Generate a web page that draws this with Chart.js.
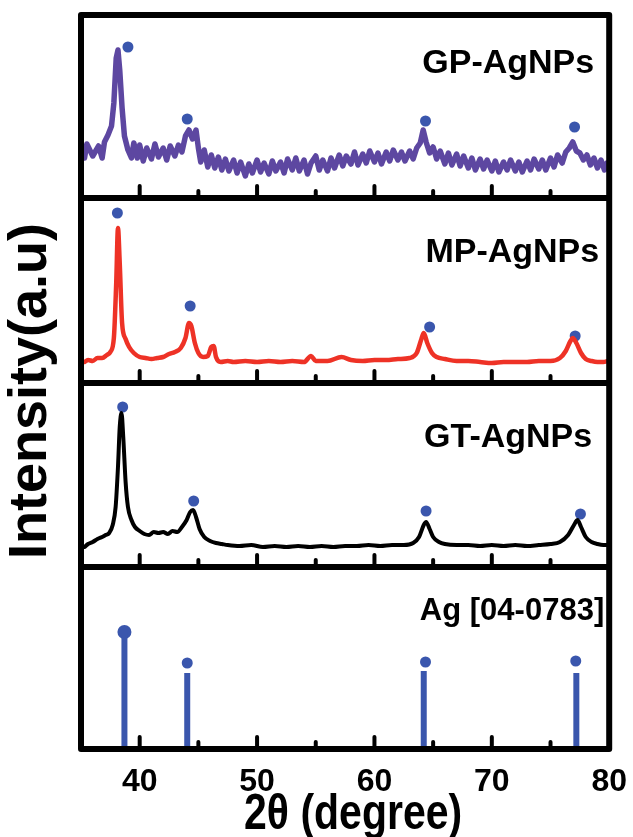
<!DOCTYPE html>
<html>
<head>
<meta charset="utf-8">
<script src="https://cdn.jsdelivr.net/npm/chart.js@4.4.0/dist/chart.umd.min.js"></script>
<style>
  html, body { margin: 0; padding: 0; background: #fff; }
  #grafico { display: block; }
</style>
</head>
<body>
<canvas id="grafico" width="633" height="837"></canvas>
<script>
// Difractogramas XRD leidos a ojo de la figura (altura sobre el borde inferior de cada panel)
const gpTheta = [35.3, 35.5, 36.0, 36.5, 36.8, 37.0, 37.3, 37.6, 37.8, 38.0, 38.15, 38.3, 38.5, 38.7, 39.0, 39.3, 39.5, 39.8,
  40.0, 40.3, 40.6, 41.0, 41.3, 41.6, 42.0, 42.3, 42.6, 43.0, 43.3, 43.6, 43.9, 44.2, 44.5, 44.8, 45.0, 45.2, 45.5, 45.8,
  46.1, 46.4, 46.7, 47.0, 47.3, 47.6, 48.0, 48.3, 48.6, 49.0, 49.3, 49.6, 50.0, 50.3, 50.6, 51.0, 51.3, 51.6, 52.0, 52.3,
  52.6, 53.0, 53.3, 53.6, 54.0, 54.3, 54.6, 55.0, 55.3, 55.6, 56.0, 56.3, 56.6, 57.0, 57.3, 57.6, 58.0, 58.3, 58.6, 59.0,
  59.3, 59.6, 60.0, 60.3, 60.6, 61.0, 61.3, 61.6, 62.0, 62.3, 62.6, 63.0, 63.3, 63.6, 63.9, 64.15, 64.4, 64.7, 65.0, 65.3,
  65.6, 66.0, 66.3, 66.6, 67.0, 67.3, 67.6, 68.0, 68.3, 68.6, 69.0, 69.3, 69.6, 70.0, 70.3, 70.6, 71.0, 71.3, 71.6, 72.0,
  72.3, 72.6, 73.0, 73.3, 73.6, 74.0, 74.3, 74.6, 75.0, 75.3, 75.6, 76.0, 76.3, 76.6, 76.9, 77.2, 77.5, 77.8, 78.1, 78.4,
  78.7, 79.0, 79.3, 79.6, 79.8];
const gpIntensity = [40, 54, 42, 52, 40, 56, 63, 72, 95, 140, 148, 128, 90, 62, 48, 40, 55, 40,
  53, 37, 50, 39, 54, 41, 50, 38, 52, 42, 53, 46, 62, 68, 59, 68, 50, 36, 48, 31,
  43, 30, 41, 28, 39, 27, 38, 25, 36, 22, 34, 25, 38, 26, 35, 24, 37, 27, 36, 25,
  39, 28, 40, 27, 38, 24, 35, 42, 28, 38, 27, 40, 30, 43, 32, 42, 34, 46, 33, 44,
  35, 47, 36, 45, 34, 46, 37, 48, 38, 46, 37, 47, 39, 50, 55, 68, 56, 45, 51, 39,
  47, 34, 45, 33, 44, 32, 42, 30, 40, 28, 39, 29, 38, 27, 37, 26, 36, 28, 38, 27,
  36, 26, 37, 28, 39, 29, 38, 28, 40, 31, 43, 35, 46, 50, 56, 47, 45, 38, 43, 33,
  40, 30, 38, 28, 35];

const mpTheta = [35.3, 35.6, 36.0, 36.4, 36.8, 37.2, 37.5, 37.8, 38.0, 38.15, 38.3, 38.5, 38.8, 39.1, 39.5, 40.0, 40.5,
  41.0, 41.5, 42.0, 42.5, 43.0, 43.5, 43.9, 44.2, 44.4, 44.7, 45.0, 45.4, 45.8, 46.1, 46.3, 46.5, 46.9, 47.5, 48.0,
  49.0, 50.0, 51.0, 52.0, 53.0, 54.0, 54.6, 55.0, 56.0, 57.2, 58.0, 59.0, 60.0, 61.0, 62.0, 63.0, 63.6, 64.0, 64.2,
  64.5, 64.9, 65.3, 66.0, 67.0, 68.0, 69.0, 70.0, 71.0, 72.0, 73.0, 74.0, 75.0, 75.8, 76.3, 76.7, 76.9, 77.2, 77.6,
  78.0, 78.5, 79.0, 79.5, 79.9];
const mpIntensity = [21, 23, 22, 25, 25, 28, 31, 45, 100, 155, 120, 60, 44, 36, 30, 26, 25,
  24, 25, 26, 29, 31, 35, 45, 60, 57, 40, 30, 26, 27, 36, 37, 26, 21, 22, 21,
  22, 21, 22, 21, 22, 21, 27, 22, 22, 26, 23, 22, 23, 23, 24, 25, 30, 44, 50,
  40, 30, 26, 24, 22, 22, 21, 20, 21, 21, 21, 22, 22, 25, 32, 42, 45, 40, 30,
  24, 22, 21, 21, 22];

const gtTheta = [35.3, 35.6, 36.0, 36.4, 36.8, 37.1, 37.4, 37.7, 37.95, 38.15, 38.3, 38.45, 38.6, 38.8, 39.0, 39.3, 39.6,
  40.0, 40.4, 40.8, 41.2, 41.6, 42.0, 42.4, 42.8, 43.2, 43.6, 44.0, 44.3, 44.55, 44.8, 45.1, 45.5, 46.0, 46.5, 47.0,
  47.5, 48.5, 49.5, 50.5, 51.5, 52.5, 53.5, 54.5, 55.5, 56.5, 57.5, 58.5, 59.5, 60.5, 61.5, 62.5, 63.3, 63.8, 64.2,
  64.4, 64.7, 65.0, 65.5, 66.0, 67.0, 68.0, 69.0, 70.0, 71.0, 72.0, 73.0, 74.0, 75.0, 75.8, 76.5, 77.0, 77.3, 77.6,
  78.0, 78.5, 79.0, 79.5, 79.9];
const gtIntensity = [20, 23, 25, 28, 30, 32, 34, 42, 60, 100, 140, 154, 130, 85, 60, 47, 40,
  36, 33, 32, 35, 34, 35, 33, 36, 35, 40, 47, 55, 57, 50, 38, 30, 26, 24, 23,
  22, 21, 22, 20, 21, 20, 21, 20, 21, 20, 21, 21, 22, 21, 22, 22, 24, 30, 42,
  45, 38, 30, 25, 23, 22, 22, 21, 22, 21, 22, 21, 22, 23, 25, 32, 42, 47, 40,
  30, 25, 23, 22, 22];

// Patron de referencia Ag (barras) y marcadores de pico
const refTheta = [38.7, 44.05, 64.2, 77.2];
const refIntensity = [117, 76, 78, 76];

const gpPeakTheta = [39.0, 44.05, 64.35, 77.05];
const gpPeakMark = [151, 79, 77, 71];
const mpPeakTheta = [38.1, 44.3, 64.7, 77.1];
const mpPeakMark = [170, 77, 56, 47];
const gtPeakTheta = [38.55, 44.6, 64.4, 77.55];
const gtPeakMark = [160, 66, 56, 53];
const refPeakTheta = [38.7, 44.05, 64.35, 77.15];
const refPeakMark = [117, 86, 87, 88];

const xTickValues = [40, 50, 60, 70, 80];
const xMinorTicks = [45, 55, 65, 75];
const panelNames = ["Ag [04-0783]", "GT-AgNPs", "MP-AgNPs", "GP-AgNPs"]; // de abajo hacia arriba

// Desplazamiento vertical de cada panel (abajo -> arriba) y tope del eje
const panelLimits = [0, 182, 366, 551];
const yMax = 734;

const azul = "#3a56ad";
const fuenteBase = "'Liberation Sans', Arial, sans-serif";

function serie(theta, valores, base) {
  return theta.map((t, i) => ({ x: t, y: valores[i] + base }));
}

function barras(theta, valores, base) {
  return theta.flatMap((t, i) => [{ x: t, y: base }, { x: t, y: base + valores[i] }, { x: t, y: null }]);
}

function linea(data, color, ancho, suave) {
  return {
    data, borderColor: color, borderWidth: ancho, pointRadius: 0, fill: false,
    borderJoinStyle: "round", borderCapStyle: "round",
    cubicInterpolationMode: suave ? "monotone" : "default", tension: 0,
  };
}

const etiquetasPanel = [
  { dx: 5, dy: 53, fuente: `bold 31px ${fuenteBase}` },
  { dx: 17, dy: 64, fuente: `bold 34px ${fuenteBase}` },
  { dx: 10, dy: 64, fuente: `bold 34px ${fuenteBase}` },
  { dx: 15, dy: 58, fuente: `bold 34px ${fuenteBase}` },
];

const marcoPlugin = {
  id: "marco",
  afterDatasetsDraw(chart) {
    const { ctx, chartArea: a, scales: { x, y } } = chart;
    ctx.save();
    ctx.strokeStyle = "#000";
    ctx.lineJoin = "round";
    ctx.lineWidth = 6;
    ctx.strokeRect(a.left, a.top, a.right - a.left, a.bottom - a.top);
    panelLimits.slice(1).forEach((v) => {
      const py = y.getPixelForValue(v);
      ctx.beginPath();
      ctx.moveTo(a.left, py);
      ctx.lineTo(a.right, py);
      ctx.stroke();
    });

    // marcas hacia adentro en el borde inferior de cada panel
    ctx.lineWidth = 4;
    ctx.lineCap = "round";
    panelLimits.forEach((v) => {
      const py = y.getPixelForValue(v) - 3;
      [[xTickValues, 9], [xMinorTicks, 4]].forEach(([valores, largo]) => {
        valores.filter((t) => t < 80).forEach((t) => {
          const px = x.getPixelForValue(t);
          ctx.beginPath();
          ctx.moveTo(px, py);
          ctx.lineTo(px, py - largo);
          ctx.stroke();
        });
      });
    });

    // nombres de las muestras
    ctx.fillStyle = "#000";
    ctx.textAlign = "right";
    ctx.textBaseline = "alphabetic";
    panelNames.forEach((nombre, i) => {
      const tope = i + 1 < panelLimits.length ? panelLimits[i + 1] : yMax;
      const e = etiquetasPanel[i];
      ctx.font = e.fuente;
      ctx.fillText(nombre, a.right - e.dx, y.getPixelForValue(tope) + e.dy);
    });

    // titulo del eje x (algo estirado en vertical, como en la figura)
    ctx.save();
    ctx.translate((a.left + a.right) / 2 + 8, 829);
    ctx.scale(1, 1.2);
    ctx.textAlign = "center";
    ctx.textBaseline = "alphabetic";
    ctx.font = `bold 41px ${fuenteBase}`;
    ctx.fillText("2θ (degree)", 0, 0);
    ctx.restore();

    // titulo del eje y
    ctx.translate(31, 391);
    ctx.rotate(-Math.PI / 2);
    ctx.textAlign = "center";
    ctx.textBaseline = "middle";
    ctx.font = `bold 54px ${fuenteBase}`;
    ctx.fillText("Intensity(a.u)", 0, 0);
    ctx.restore();
  },
};

new Chart(document.querySelector("#grafico"), {
  type: "line",
  data: {
    datasets: [
      linea(serie(gpTheta, gpIntensity, panelLimits[3]), "#5d47a1", 5.5, false),
      linea(serie(mpTheta, mpIntensity, panelLimits[2]), "#ee3226", 4.5, true),
      linea(serie(gtTheta, gtIntensity, panelLimits[1]), "#000", 4, true),
      { ...linea(barras(refTheta, refIntensity, panelLimits[0]), azul, 6, false), borderCapStyle: "butt", spanGaps: false },
      {
        type: "scatter",
        data: [
          ...serie(gpPeakTheta, gpPeakMark, panelLimits[3]),
          ...serie(mpPeakTheta, mpPeakMark, panelLimits[2]),
          ...serie(gtPeakTheta, gtPeakMark, panelLimits[1]),
          ...serie(refPeakTheta, refPeakMark, panelLimits[0]),
        ],
        pointRadius: [5.5, 5.5, 5.5, 5.5, 5.5, 5.5, 5.5, 5.5, 5.5, 5.5, 5.5, 5.5, 7, 5.5, 5.5, 5.5],
        pointBackgroundColor: azul,
        pointBorderWidth: 0,
        showLine: false,
      },
    ],
  },
  options: {
    responsive: false,
    animation: false,
    layout: { padding: { left: 81, right: 21, top: 15, bottom: 0 } },
    plugins: { legend: { display: false }, tooltip: { enabled: false } },
    scales: {
      x: {
        type: "linear",
        min: 35,
        max: 80,
        afterBuildTicks: (escala) => { escala.ticks = xTickValues.map((v) => ({ value: v })); },
        afterFit: (escala) => { escala.height = 88; },
        grid: { display: false },
        border: { display: false },
        ticks: { color: "#000", padding: 6, font: { family: fuenteBase, size: 32, weight: "bold" } },
      },
      y: { display: false, min: 0, max: yMax },
    },
  },
  plugins: [marcoPlugin],
});
</script>
</body>
</html>
